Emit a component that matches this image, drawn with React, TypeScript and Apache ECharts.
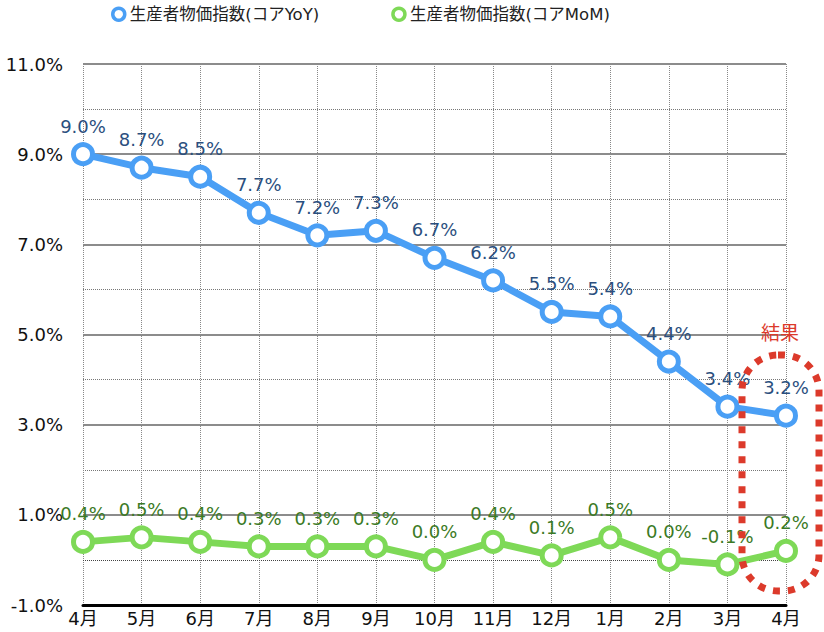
import React, { useEffect, useRef } from "react";
import * as echarts from "echarts";

const categories = ["4月", "5月", "6月", "7月", "8月", "9月", "10月", "11月", "12月", "1月", "2月", "3月", "4月"];
const yoyValues = [9.0, 8.7, 8.5, 7.7, 7.2, 7.3, 6.7, 6.2, 5.5, 5.4, 4.4, 3.4, 3.2];
const momValues = [0.4, 0.5, 0.4, 0.3, 0.3, 0.3, 0.0, 0.4, 0.1, 0.5, 0.0, -0.1, 0.2];
const seriesNames = ["生産者物価指数(コアYoY)", "生産者物価指数(コアMoM)"];
const annotationText = "結果";

const FONT = "'DejaVu Sans', 'Noto Sans CJK JP', sans-serif";
const BLUE = "#4a9ff5";
const GREEN = "#7ed957";

export default function App() {
  const ref = useRef<HTMLDivElement>(null);
  useEffect(() => {
    if (!ref.current) return;
    const chart = echarts.init(ref.current, null, { renderer: "svg" });
    const lineSeries = (name: string, data: number[], color: string, labelColor: string) => ({
      name,
      type: "line",
      data,
      symbol: "circle",
      symbolSize: 19,
      lineStyle: { color, width: 7 },
      itemStyle: { color: "#ffffff", borderColor: color, borderWidth: 5 },
      label: {
        show: true,
        position: "top",
        distance: 7,
        formatter: (p: any) => p.value.toFixed(1) + "%",
        color: labelColor,
        fontSize: 18,
        fontFamily: FONT,
      },
      z: 3,
    });
    chart.setOption({
      animation: false,
      textStyle: { fontFamily: FONT },
      legend: {
        top: 1,
        left: 106,
        itemGap: 72,
        icon: "circle",
        itemWidth: 12,
        itemHeight: 12,
        textStyle: { fontSize: 16.5, color: "#222", fontFamily: FONT },
        data: [
          { name: seriesNames[0], itemStyle: { color: "#fff", borderColor: BLUE, borderWidth: 3.5 } },
          { name: seriesNames[1], itemStyle: { color: "#fff", borderColor: GREEN, borderWidth: 3.5 } },
        ],
      },
      grid: { left: 83, right: 38, top: 64, bottom: 27, containLabel: false },
      xAxis: {
        type: "category",
        data: categories,
        boundaryGap: false,
        axisLine: { onZero: false, lineStyle: { color: "#000", width: 3 } },
        axisTick: { show: false },
        axisLabel: { color: "#111", fontSize: 18, margin: 4, fontFamily: FONT, interval: 0 },
        splitLine: { show: true, lineStyle: { color: "#888", type: "dotted", width: 1 } },
      },
      yAxis: {
        type: "value",
        min: -1,
        max: 11,
        interval: 2,
        axisLine: { show: false },
        axisTick: { show: false },
        axisLabel: {
          color: "#111",
          fontSize: 18,
          margin: 20,
          fontFamily: FONT,
          formatter: (v: number) => v.toFixed(1) + "%",
        },
        splitLine: { show: true, lineStyle: { color: "#666", width: 1.5 } },
        minorTick: { show: false, splitNumber: 2 },
        minorSplitLine: { show: true, lineStyle: { color: "#777", type: "dotted", width: 1 } },
      },
      series: [
        {
          ...lineSeries(seriesNames[0], yoyValues, BLUE, "#2b4f7e"),
        },
        {
          ...lineSeries(seriesNames[1], momValues, GREEN, "#3b7a25"),
          markLine: {
            silent: true,
            symbol: "none",
            label: { show: false },
            emphasis: { disabled: true },
            lineStyle: { color: "#444", type: [1, 1], width: 1 },
            data: [{ yAxis: 0 }],
            z: 1,
          },
        },
      ],
      graphic: [
        {
          type: "rect",
          shape: { x: 742, y: 355, width: 77, height: 236, r: 36 },
          style: { fill: "none", stroke: "#dc3a2b", lineWidth: 7, lineDash: [7, 8] },
          z: 10,
        },
        {
          type: "text",
          x: 780,
          y: 333,
          style: {
            text: annotationText,
            fill: "#dc3a2b",
            fontSize: 19,
            fontFamily: FONT,
            align: "center",
            verticalAlign: "middle",
          },
          z: 10,
        },
      ],
    });
    return () => chart.dispose();
  }, []);
  return (
    <div
      ref={ref}
      style={{ position: "absolute", left: 0, top: 0, width: 824, height: 632 }}
    />
  );
}
